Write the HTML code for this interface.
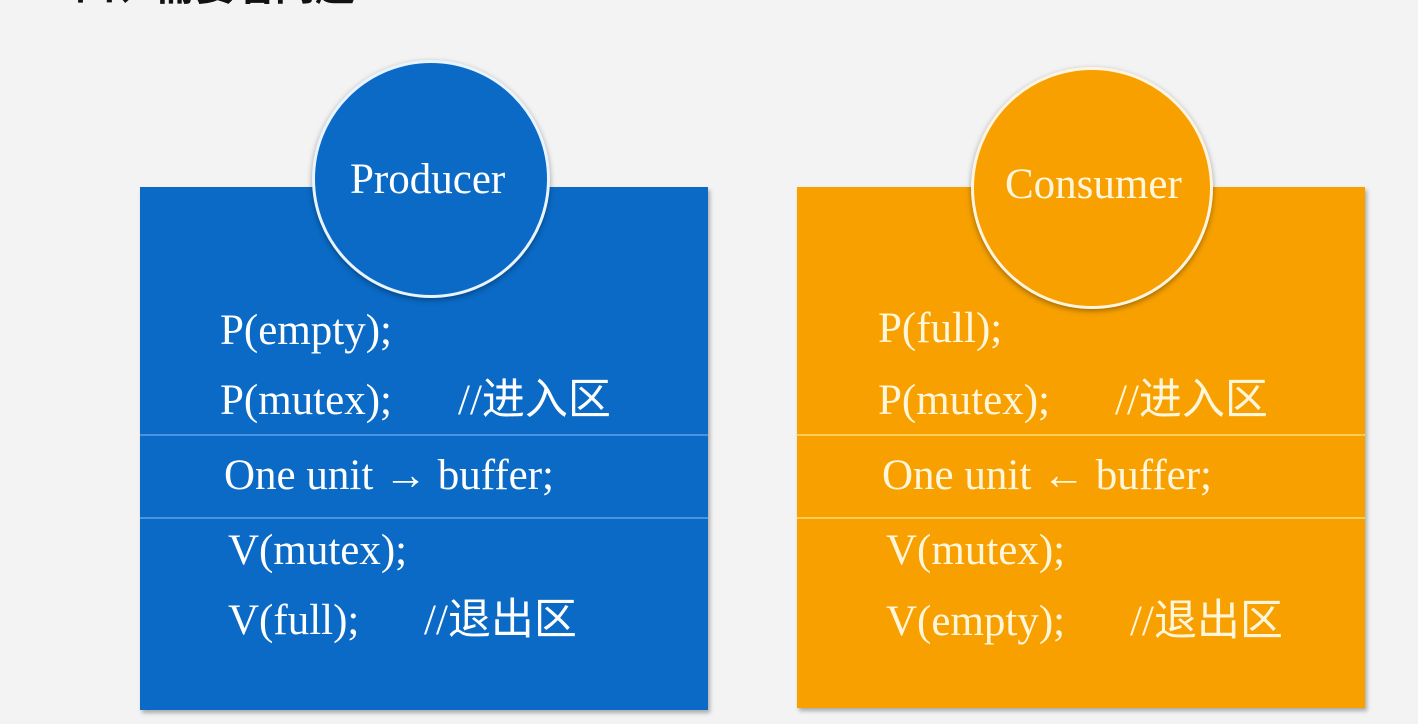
<!DOCTYPE html>
<html><head><meta charset="utf-8"><style>
body{margin:0;width:1418px;height:724px;overflow:hidden;background:#f3f3f3;position:relative;font-family:"Liberation Serif","Noto Serif CJK SC",serif}
.box{position:absolute;box-shadow:2px 3px 4px rgba(0,0,0,.3)}
.circ{position:absolute;border-radius:50%;border:3px solid #e8f4ff;box-shadow:0 2px 6px rgba(0,0,0,.35)}
.t{position:absolute;font-size:43px;line-height:1;white-space:nowrap}
.cn{font-family:"Liberation Serif","Noto Sans CJK SC",sans-serif}
.ln{position:absolute;height:2px}
.b .t{color:#fff}
.o .t{color:#fff6dc}
</style></head><body>
<div style="position:absolute;left:75px;top:-46px;font:bold 40px 'Liberation Sans','Noto Sans CJK SC',sans-serif;color:#111">四、需要着问题</div>
<div class="b">
<div class="box" style="left:140px;top:187px;width:568px;height:523px;background:#0a6ac6"></div>
<div class="ln" style="left:140px;top:434px;width:568px;background:#4a94dc"></div>
<div class="ln" style="left:140px;top:517px;width:568px;background:#4a94dc"></div>
<div class="circ" style="left:312px;top:60px;width:232px;height:232px;background:#0a6ac6"></div>
<div class="t" style="left:350px;top:158px">Producer</div>
<div class="t" style="left:220px;top:309px">P(empty);</div>
<div class="t" style="left:220px;top:379px">P(mutex);</div>
<div class="t cn" style="left:458px;top:379px">//进入区</div>
<div class="t" style="left:224px;top:454px">One unit → buffer;</div>
<div class="t" style="left:228px;top:529px">V(mutex);</div>
<div class="t" style="left:228px;top:599px">V(full);</div>
<div class="t cn" style="left:424px;top:599px">//退出区</div>
</div>
<div class="o">
<div class="box" style="left:797px;top:187px;width:568px;height:521px;background:#f7a000"></div>
<div class="ln" style="left:797px;top:434px;width:568px;background:#ffcc55"></div>
<div class="ln" style="left:797px;top:517px;width:568px;background:#ffcc55"></div>
<div class="circ" style="left:971px;top:67px;width:236px;height:236px;background:#f7a000;border-color:#fff4e0"></div>
<div class="t" style="left:1005px;top:163px">Consumer</div>
<div class="t" style="left:878px;top:307px">P(full);</div>
<div class="t" style="left:878px;top:379px">P(mutex);</div>
<div class="t cn" style="left:1115px;top:379px">//进入区</div>
<div class="t" style="left:882px;top:454px">One unit ← buffer;</div>
<div class="t" style="left:886px;top:529px">V(mutex);</div>
<div class="t" style="left:886px;top:600px">V(empty);</div>
<div class="t cn" style="left:1130px;top:600px">//退出区</div>
</div>
</body></html>
